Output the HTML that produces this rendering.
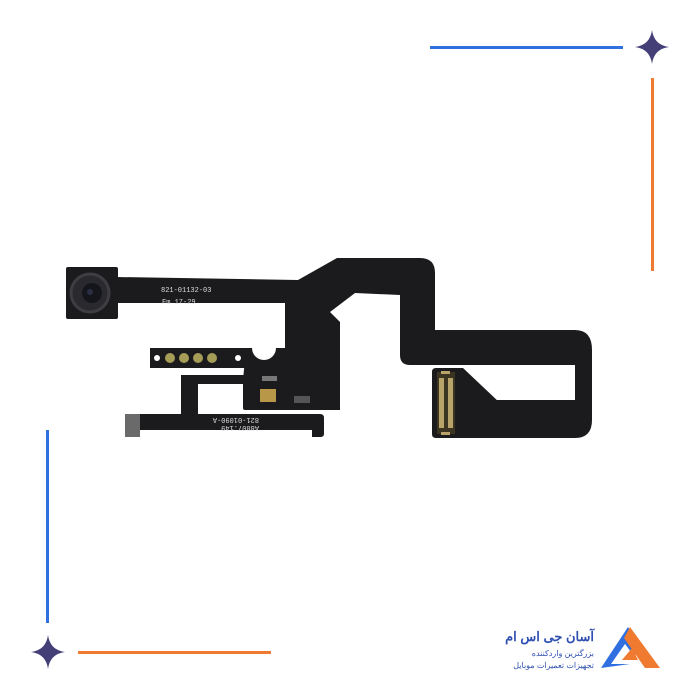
<!DOCTYPE html>
<html><head><meta charset="utf-8"><style>
html,body{margin:0;padding:0;background:#fff;width:700px;height:700px;overflow:hidden}
svg{display:block}
</style></head><body>
<svg width="700" height="700" viewBox="0 0 700 700" xmlns="http://www.w3.org/2000/svg">
<rect width="700" height="700" fill="#fff"/>
<rect x="430" y="46" width="193" height="3" fill="#2f6fe0"/>
<rect x="651" y="78" width="3" height="193" fill="#f07a30"/>
<rect x="46" y="430" width="3" height="193" fill="#2f6fe0"/>
<rect x="78" y="651" width="193" height="3" fill="#f07a30"/>
<path d="M652,30 Q654,45 669,47 Q654,49 652,64 Q650,49 635,47 Q650,45 652,30Z" fill="#453f78"/>
<path d="M48,635 Q50,650 65,652 Q50,654 48,669 Q46,654 31,652 Q46,650 48,635Z" fill="#453f78"/>

<g fill="#1b1b1d">
 <rect x="66" y="267" width="52" height="52" rx="2"/>
 <path d="M116,277 L298,280 L337,258 L420,258 Q435,258 435,273 L435,330 L575,330 Q592,330 592,350 L592,420 Q592,438 575,438 L480,438 L480,400 L575,400 L575,365 L410,365 Q400,365 400,355 L400,295 L355,293 L330,312 L340,322 L340,410 L285,410 L285,303 L116,303 Z"/>
 <rect x="150" y="348" width="97" height="20"/>
 <path d="M246,348 L252,348 A12,12 0 0 0 276,348 L290,348 L290,380 L243,380 Z"/>
 <rect x="181" y="375" width="64" height="9"/>
 <rect x="181" y="375" width="17" height="40"/>
 <rect x="243" y="378" width="97" height="32" rx="2"/>
 <path d="M125,414 L320,414 Q324,414 324,418 L324,434 Q324,437 320,437 L312,437 L312,430 L140,430 L140,437 L125,437 Z"/>
 <path d="M436,368 L463,368 L500,403 L500,438 L436,438 Q432,438 432,434 L432,372 Q432,368 436,368Z"/>
</g>
<circle cx="90" cy="293" r="19" fill="#2a2a2e" stroke="#3d3d42" stroke-width="3"/>
<circle cx="92" cy="293" r="10" fill="#15151c"/>
<circle cx="90" cy="292" r="3" fill="#2c2e45"/>
<rect x="125" y="414" width="15" height="23" fill="#6a6a6a"/>
<rect x="437" y="372" width="18" height="62" fill="#3a3420"/>
<g fill="#b8a36a">
 <rect x="439" y="378" width="5" height="50"/>
 <rect x="448" y="378" width="5" height="50"/>
 <rect x="441" y="371" width="9" height="3"/>
 <rect x="441" y="432" width="9" height="3"/>
</g>
<circle cx="157" cy="358" r="3" fill="#fff"/>
<circle cx="170" cy="358" r="5" fill="#a59c58"/>
<circle cx="184" cy="358" r="5" fill="#a59c58"/>
<circle cx="198" cy="358" r="5" fill="#a59c58"/>
<circle cx="212" cy="358" r="5" fill="#a59c58"/>
<circle cx="238" cy="358" r="3" fill="#fff"/>
<rect x="260" y="389" width="16" height="13" fill="#b89848"/>
<rect x="262" y="376" width="15" height="5" fill="#777"/>
<rect x="294" y="396" width="16" height="7" fill="#555"/>
<g font-family="Liberation Mono, monospace" fill="#ddd" font-size="7">
 <text x="161" y="292">821-01132-03</text>
 <text x="162" y="304">Fm 17-29</text>
 <g transform="rotate(180 240 424)"><text x="221" y="422">A8807.149</text><text x="221" y="430">821-01090-A</text></g>
</g>
<path d="M601,668 L628,627 L641,648 L634,656 L625,644 L611,664 L630,664 Z" fill="#2f6fe0"/>
<path d="M630,627 L660,668 L645,668 L624,638 Z" fill="#f07a30"/>
<path d="M622,660 L632,648 L638,660 Z" fill="#f07a30"/>
<g font-family="Liberation Sans, Noto Sans CJK SC, sans-serif" text-anchor="end" fill="#2f4fb0">
 <text x="594" y="641" font-size="13" font-weight="bold">آسان جی اس ام</text>
 <text x="594" y="656" font-size="8">بزرگترین واردکننده</text>
 <text x="594" y="668" font-size="8">تجهیزات تعمیرات موبایل</text>
</g>
</svg>
</body></html>
